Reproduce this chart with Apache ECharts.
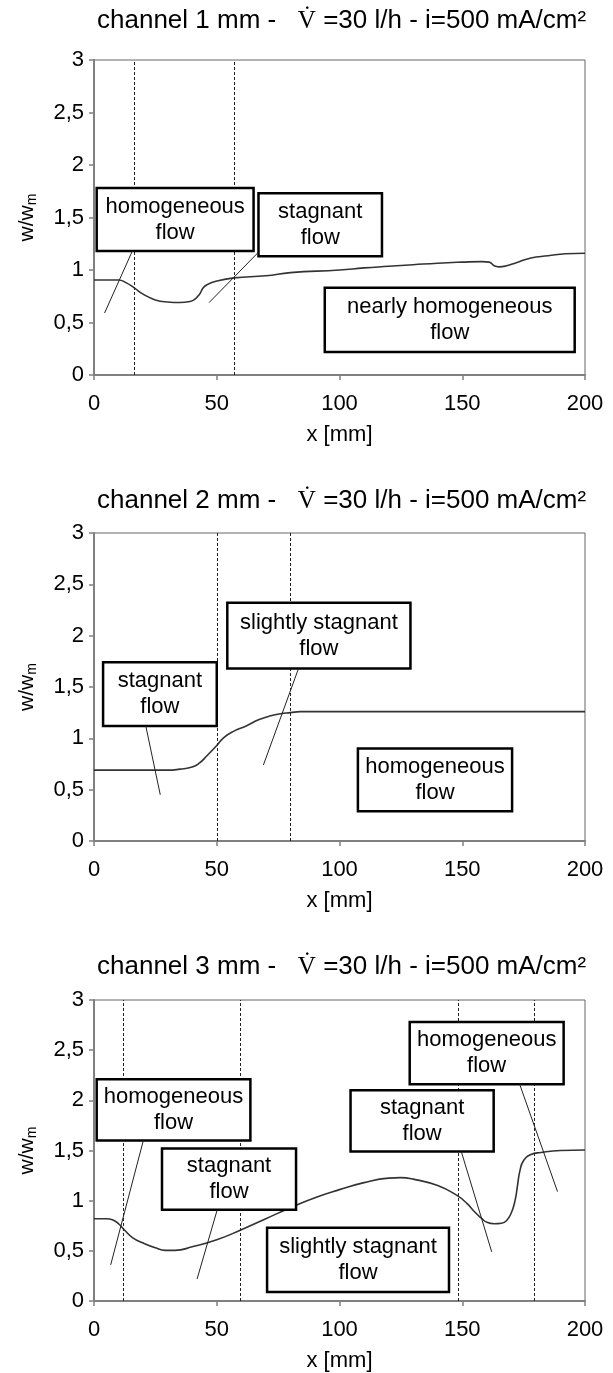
<!DOCTYPE html>
<html>
<head>
<meta charset="utf-8">
<script src="https://cdn.jsdelivr.net/npm/echarts@6/dist/echarts.min.js"></script>
<style>html,body{margin:0;padding:0;background:#fff}#c{width:613px;height:1373px}</style>
</head>
<body>
<div id="c"></div>
<script>
// ---------- data ----------
const titles = ['channel 1 mm', 'channel 2 mm', 'channel 3 mm'];
const flowLabel = ' =30 l/h - i=500 mA/cm²';

const ch1X = [0, 5, 10, 13, 16.4, 20, 25, 30, 35, 39, 41, 43, 44.5, 46, 50, 57, 70, 80, 100, 110, 120, 130, 140, 150, 158, 161, 163, 165, 168, 172, 178, 185, 192, 200];
const ch1Y = [0.905, 0.905, 0.905, 0.88, 0.83, 0.77, 0.715, 0.695, 0.69, 0.70, 0.72, 0.77, 0.83, 0.86, 0.895, 0.925, 0.945, 0.975, 1.00, 1.02, 1.035, 1.05, 1.065, 1.075, 1.08, 1.075, 1.04, 1.03, 1.04, 1.07, 1.115, 1.135, 1.155, 1.16];

const ch2X = [0, 20, 30, 35, 40, 43, 46, 50, 53, 57, 62, 67, 72, 76, 80, 84, 200];
const ch2Y = [0.69, 0.69, 0.69, 0.70, 0.72, 0.76, 0.83, 0.93, 1.01, 1.07, 1.12, 1.18, 1.22, 1.24, 1.25, 1.26, 1.26];

const ch3X = [0, 5, 7.5, 10, 12.7, 15.8, 19.8, 25, 29, 33, 40, 50, 60, 70, 80, 90, 100, 110, 120, 125, 130, 140, 148, 152, 155, 158, 160, 163, 166, 168, 170, 171.5, 172.5, 173.5, 175, 178, 182, 190, 200];
const ch3Y = [0.82, 0.82, 0.81, 0.77, 0.70, 0.63, 0.58, 0.53, 0.505, 0.505, 0.54, 0.61, 0.71, 0.82, 0.93, 1.03, 1.11, 1.18, 1.225, 1.23, 1.215, 1.15, 1.05, 0.97, 0.89, 0.82, 0.785, 0.77, 0.775, 0.80, 0.88, 1.0, 1.15, 1.30, 1.40, 1.46, 1.48, 1.50, 1.505];

const dividers1 = [16.5, 57];
const dividers2 = [50, 80];
const dividers3 = [12, 59.5, 148.5, 179.5];

// annotation boxes: [x1, y1, x2, y2, text] in data units
const boxes1 = [
  [1.1, 1.78, 65, 1.18, 'homogeneous\nflow'],
  [67, 1.73, 117.3, 1.13, 'stagnant\nflow'],
  [94, 0.83, 195.8, 0.22, 'nearly homogeneous\nflow']
];
const leaders1 = [[15.6, 1.18, 4.3, 0.59], [67, 1.17, 46.9, 0.69]];

const boxes2 = [
  [3.7, 1.74, 50, 1.12, 'stagnant\nflow'],
  [54.3, 2.32, 128.9, 1.68, 'slightly stagnant\nflow'],
  [107.5, 0.90, 170.3, 0.29, 'homogeneous\nflow']
];
const leaders2 = [[21.1, 1.12, 27, 0.45], [83.3, 1.68, 69, 0.74]];

const boxes3 = [
  [1.1, 2.21, 63.7, 1.60, 'homogeneous\nflow'],
  [27.7, 1.52, 82.3, 0.91, 'stagnant\nflow'],
  [70.5, 0.73, 144.6, 0.09, 'slightly stagnant\nflow'],
  [104.5, 2.10, 162.8, 1.49, 'stagnant\nflow'],
  [128.6, 2.78, 191.3, 2.16, 'homogeneous\nflow']
];
const leaders3 = [[20.1, 1.60, 6.8, 0.36], [50.2, 0.91, 42, 0.22], [149.6, 1.49, 162, 0.49], [173.4, 2.16, 188.8, 1.09]];

// ---------- layout ----------
const FONT = 'Liberation Sans';
const panels = [
  {top: 60, height: 315, titleTop: 3, xs: ch1X, ys: ch1Y, div: dividers1, boxes: boxes1, leaders: leaders1},
  {top: 533, height: 308, titleTop: 483, xs: ch2X, ys: ch2Y, div: dividers2, boxes: boxes2, leaders: leaders2},
  {top: 1000, height: 301, titleTop: 949, xs: ch3X, ys: ch3Y, div: dividers3, boxes: boxes3, leaders: leaders3}
];

const chart = echarts.init(document.getElementById('c'), null, {renderer: 'canvas'});
const option = {
  animation: false,
  backgroundColor: '#fff',
  title: [], grid: [], xAxis: [], yAxis: [], series: []
};

panels.forEach((p, i) => {
  option.title.push({
    text: '{a|' + titles[i] + ' -   }{v|V\u0307}{a|' + flowLabel + '}',
    left: 92, top: p.titleTop,
    textStyle: {
      fontWeight: 'normal',
      rich: {
        a: {fontFamily: FONT, fontSize: 26, fontWeight: 'normal', color: '#000'},
        v: {fontFamily: 'Liberation Serif', fontSize: 25, fontWeight: 'normal', color: '#000'}
      }
    }
  });
  option.grid.push({
    left: 94, right: 28, top: p.top, height: p.height,
    show: true, borderColor: '#666', borderWidth: 1, backgroundColor: 'transparent'
  });
  option.xAxis.push({
    type: 'value', gridIndex: i, min: 0, max: 200, interval: 50,
    name: 'x [mm]', nameLocation: 'middle', nameGap: 49,
    nameTextStyle: {fontFamily: FONT, fontSize: 22, color: '#000'},
    axisLine: {show: true, onZero: false, lineStyle: {color: '#808080', width: 2}},
    axisTick: {show: true, length: 5, lineStyle: {color: '#808080', width: 1.5}},
    axisLabel: {fontFamily: FONT, fontSize: 22, color: '#000', margin: 18},
    splitLine: {show: false}
  });
  option.yAxis.push({
    type: 'value', gridIndex: i, min: 0, max: 3, interval: 0.5,
    name: 'w/w{s|m}', nameLocation: 'middle', nameGap: 55,
    nameTextStyle: {fontFamily: FONT, fontSize: 21, color: '#000',
      rich: {s: {fontFamily: FONT, fontSize: 14, color: '#000', verticalAlign: 'bottom', padding: [9, 0, 0, 0]}}},
    axisLine: {show: true, lineStyle: {color: '#808080', width: 2}},
    axisTick: {show: true, length: 5, lineStyle: {color: '#808080', width: 1.5}},
    axisLabel: {fontFamily: FONT, fontSize: 22, color: '#000', margin: 10,
      formatter: v => String(v).replace('.', ',')},
    splitLine: {show: false}
  });
  option.series.push({
    type: 'line', xAxisIndex: i, yAxisIndex: i,
    data: p.xs.map((x, k) => [x, p.ys[k]]),
    showSymbol: false, smooth: 0.5,
    lineStyle: {color: '#333', width: 1.6},
    z: 2,
    markLine: {
      silent: true, symbol: 'none', label: {show: false},
      lineStyle: {color: '#222', width: 1, type: [3, 2]},
      data: p.div.map(d => ({xAxis: d}))
    }
  });
  const boxes = p.boxes;
  option.series.push({
    type: 'custom', xAxisIndex: i, yAxisIndex: i, clip: false, z: 5,
    data: boxes.map(b => [b[0], b[1], b[2], b[3]]),
    renderItem: (params, api) => {
      const a = api.coord([api.value(0), api.value(1)]);
      const b = api.coord([api.value(2), api.value(3)]);
      return {
        type: 'group',
        children: [
          {type: 'rect', shape: {x: a[0], y: a[1], width: b[0] - a[0], height: b[1] - a[1]},
            style: {fill: '#fff', stroke: '#000', lineWidth: 2.5}},
          {type: 'text', style: {text: boxes[params.dataIndex][4], x: (a[0] + b[0]) / 2, y: (a[1] + b[1]) / 2,
            align: 'center', verticalAlign: 'middle', textAlign: 'center', textVerticalAlign: 'middle',
            fontFamily: FONT, fontSize: 22, lineHeight: 26, fill: '#000'}}
        ]
      };
    }
  });
  option.series.push({
    type: 'custom', xAxisIndex: i, yAxisIndex: i, clip: false, z: 6,
    data: p.leaders,
    renderItem: (params, api) => {
      const a = api.coord([api.value(0), api.value(1)]);
      const b = api.coord([api.value(2), api.value(3)]);
      return {type: 'line', shape: {x1: a[0], y1: a[1], x2: b[0], y2: b[1]},
        style: {stroke: '#222', lineWidth: 1}};
    }
  });
});

chart.setOption(option);
</script>
</body>
</html>
